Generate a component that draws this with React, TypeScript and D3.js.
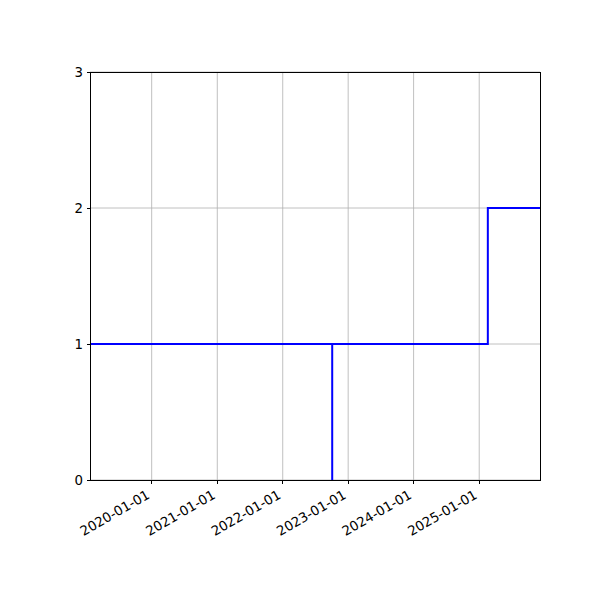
import * as d3 from 'd3';

// step series
const stepDates = ['2019-01-22', '2022-10-04', '2022-10-04', '2025-02-18', '2025-12-06'];
const stepValues = [1, 0, 1, 2, 2];

const xTickDates = ['2020-01-01', '2021-01-01', '2022-01-01', '2023-01-01', '2024-01-01', '2025-01-01'];
const yTicks = [0, 1, 2, 3];

const width = 600;
const height = 600;
const margin = { top: 72, right: 60, bottom: 120, left: 90 };
const innerWidth = width - margin.left - margin.right;
const innerHeight = height - margin.top - margin.bottom;
const font = '"DejaVu Sans", sans-serif';
const fontSize = 13.33;

const parse = d3.utcParse('%Y-%m-%d');

export default function App() {
  const dates = stepDates.map((d) => parse(d) as Date);
  const points: [Date, number][] = dates.map((d, i) => [d, stepValues[i]]);

  const xScale = d3
    .scaleUtc()
    .domain([dates[0], dates[dates.length - 1]])
    .range([0, innerWidth]);
  const yScale = d3.scaleLinear().domain([0, 3]).range([innerHeight, 0]);

  const line = d3
    .line<[Date, number]>()
    .x((d) => xScale(d[0]))
    .y((d) => yScale(d[1]))
    .curve(d3.curveStepAfter);

  const xTicks = xTickDates.map((d) => parse(d) as Date);

  return (
    <svg
      width={width}
      height={height}
      style={{ position: 'absolute', left: 0, top: 0, background: '#fff' }}
    >
      <g transform={`translate(${margin.left}, ${margin.top})`}>
        {/* grid */}
        {xTicks.map((t, i) => (
          <line
            key={`gx${i}`}
            x1={xScale(t)}
            x2={xScale(t)}
            y1={0}
            y2={innerHeight}
            stroke="#b0b0b0"
            strokeWidth={0.8}
          />
        ))}
        {yTicks.map((t) => (
          <line
            key={`gy${t}`}
            x1={0}
            x2={innerWidth}
            y1={yScale(t)}
            y2={yScale(t)}
            stroke="#b0b0b0"
            strokeWidth={0.8}
          />
        ))}

        {/* step line */}
        <path d={line(points) ?? ''} fill="none" stroke="#0000ff" strokeWidth={2} />

        {/* spines */}
        <rect
          x={0}
          y={0}
          width={innerWidth}
          height={innerHeight}
          fill="none"
          stroke="#000"
          strokeWidth={1}
          shapeRendering="crispEdges"
        />

        {/* x ticks */}
        {xTicks.map((t, i) => (
          <g key={`xt${i}`}>
            <line
              x1={xScale(t)}
              x2={xScale(t)}
              y1={innerHeight}
              y2={innerHeight + 3.5}
              stroke="#000"
              strokeWidth={1}
              shapeRendering="crispEdges"
            />
            <g transform={`translate(${xScale(t) - 7}, ${innerHeight + 7}) rotate(-30)`}>
              <text
                y={12}
                textAnchor="end"
                fontFamily={font}
                fontSize={fontSize}
                fill="#000"
              >
                {xTickDates[i]}
              </text>
            </g>
          </g>
        ))}

        {/* y ticks */}
        {yTicks.map((t) => (
          <g key={`yt${t}`}>
            <line
              x1={-3.5}
              x2={0}
              y1={yScale(t)}
              y2={yScale(t)}
              stroke="#000"
              strokeWidth={1}
              shapeRendering="crispEdges"
            />
            <text
              x={-7}
              y={yScale(t)}
              dy="0.35em"
              textAnchor="end"
              fontFamily={font}
              fontSize={fontSize}
              fill="#000"
            >
              {t}
            </text>
          </g>
        ))}
      </g>
    </svg>
  );
}
